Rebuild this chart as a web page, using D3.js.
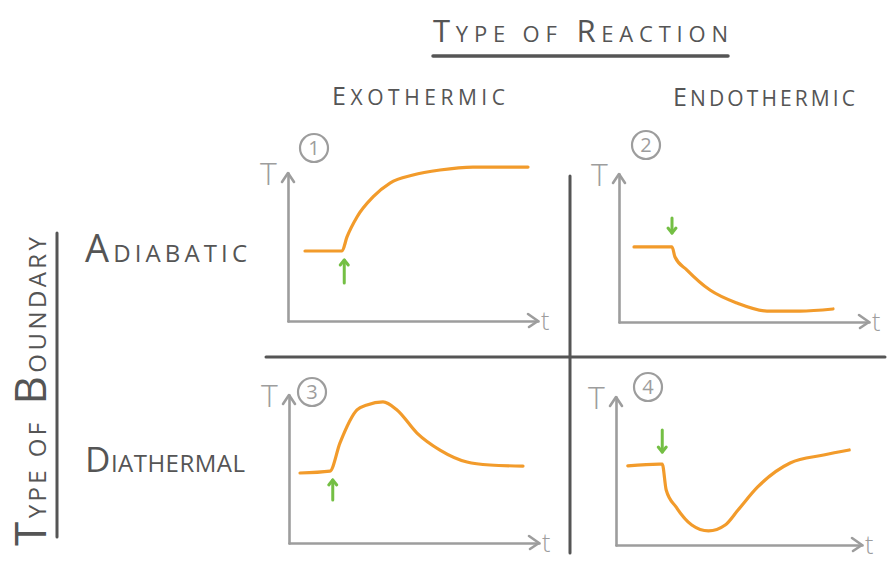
<!DOCTYPE html>
<html>
<head>
<meta charset="utf-8">
<script src="https://cdn.jsdelivr.net/npm/d3@7"></script>
<style>
  body { margin: 0; background: #fff; }
  svg { display: block; }
</style>
</head>
<body>
<svg id="chart" width="887" height="563"></svg>
<script>
// Headings
const titleWords = ["TYPE", "OF", "REACTION"];
const sideWords = ["TYPE", "OF", "BOUNDARY"];
const reactionTypes = ["EXOTHERMIC", "ENDOTHERMIC"];
const boundaryTypes = ["ADIABATIC", "DIATHERMAL"];
const panelNumbers = ["1", "2", "3", "4"];

// Temperature vs time sketches, [t, T] on a 0-100 scale
const adiabaticExo = [[6.8,47.3],[21.6,47.3],[23.6,56.8],[27.6,70.3],[34,83.8],[40.8,93.2],[50,98.6],[60.8,102],[74,104],[96,104]];
const adiabaticEndo = [[6,50.7],[21.2,50.7],[22.4,43.9],[27.2,35.1],[36.4,21.6],[47.2,12.8],[59.2,7.4],[72.4,7.4],[85.6,8.8]];
const diathermalExo = [[4.4,47.3],[16.4,48.6],[20.4,67.6],[27.2,89.9],[31.2,93.2],[37.6,95.3],[43.2,89.9],[51.2,74.3],[60.4,62.8],[71.2,54.7],[80.4,52.7],[93.6,52]];
const diathermalEndo = [[4.8,53.4],[17.6,54.7],[18.8,54.7],[20.4,37.2],[24.4,25.7],[30.8,13.5],[37.6,9.5],[44.4,13.5],[49.6,23.6],[57.6,39.2],[70.8,55.4],[84.4,60.8],[94.8,64.2]];
const curves = [adiabaticExo, adiabaticEndo, diathermalExo, diathermalEndo];

// Green trigger arrows: t position, tail T, head T
const triggerT = [22.5, 21.2, 17.5, 18.8];
const triggerFrom = [25.7, 70.3, 29, 77.7];
const triggerTo = [41.2, 60.1, 42.6, 62.8];

const svg = d3.select("#chart");
const INK = "#555555";
const AXIS = "#9d9d9d";
const ORANGE = "#f29b2b";
const GREEN = "#74bf44";
const FONT = "'Open Sans', 'DejaVu Sans', sans-serif";

// panel origins (axis corner) and axis sizes in pixels
const panels = [
  { ox: 288, oy: 321, w: 250, h: 148, numX: 314, numY: 148 },
  { ox: 619, oy: 322, w: 250, h: 148, numX: 646, numY: 145 },
  { ox: 289, oy: 543, w: 250, h: 148, numX: 312, numY: 392 },
  { ox: 616, oy: 545, w: 246, h: 148, numX: 648, numY: 387 }
];

// small-caps style heading: first letter of chosen words drawn large
function capsText(g, words, bigIdx, big, small, width) {
  const t = g.append("text")
    .attr("font-family", FONT)
    .attr("fill", INK)
    .attr("textLength", width)
    .attr("lengthAdjust", "spacing");
  words.forEach((w, i) => {
    const first = bigIdx.includes(i);
    t.append("tspan").attr("font-size", first ? big : small).text((i > 0 ? " " : "") + w[0]);
    t.append("tspan").attr("font-size", small).text(w.slice(1));
  });
  return t;
}

// Title + underline
capsText(svg.append("g").attr("transform", "translate(433,42)"), titleWords, [0, 2], 31, 22, 295);
svg.append("line").attr("x1", 433).attr("x2", 728).attr("y1", 56).attr("y2", 56)
  .attr("stroke", INK).attr("stroke-width", 3.5).attr("stroke-linecap", "round");

// Column headings
capsText(svg.append("g").attr("transform", "translate(332,105)"), [reactionTypes[0]], [0], 25, 21, 173);
capsText(svg.append("g").attr("transform", "translate(673,106)"), [reactionTypes[1]], [0], 25, 21, 182);

// Row headings
capsText(svg.append("g").attr("transform", "translate(85,262)"), [boundaryTypes[0]], [0], 38, 24, 162);
capsText(svg.append("g").attr("transform", "translate(85,472)"), [boundaryTypes[1]], [0], 35, 24, 160);

// Side heading (rotated) + rule
capsText(svg.append("g").attr("transform", "translate(46,546) rotate(-90)"), sideWords, [0, 2], 44, 24, 309);
svg.append("line").attr("x1", 57).attr("x2", 57).attr("y1", 233).attr("y2", 537)
  .attr("stroke", INK).attr("stroke-width", 3).attr("stroke-linecap", "round");

// Grid separators
svg.append("line").attr("x1", 266).attr("x2", 885).attr("y1", 357).attr("y2", 357)
  .attr("stroke", INK).attr("stroke-width", 3).attr("stroke-linecap", "round");
svg.append("line").attr("x1", 570).attr("x2", 570).attr("y1", 176).attr("y2", 553)
  .attr("stroke", INK).attr("stroke-width", 3).attr("stroke-linecap", "round");

panels.forEach((p, i) => {
  const x = d3.scaleLinear().domain([0, 100]).range([p.ox, p.ox + p.w]);
  const y = d3.scaleLinear().domain([0, 100]).range([p.oy, p.oy - p.h]);
  const g = svg.append("g");

  // axes without ticks
  const xa = g.append("g").attr("transform", `translate(0,${p.oy})`)
    .call(d3.axisBottom(x).tickValues([]).tickSizeOuter(0));
  const ya = g.append("g").attr("transform", `translate(${p.ox},0)`)
    .call(d3.axisLeft(y).tickValues([]).tickSizeOuter(0));
  [xa, ya].forEach(a => a.select(".domain")
    .attr("stroke", AXIS).attr("stroke-width", 2.6).attr("stroke-linecap", "round"));

  // axis arrowheads
  const xe = x(100), yt = y(100);
  g.append("path").attr("d", `M${xe - 10},${p.oy - 7}L${xe},${p.oy}L${xe - 9},${p.oy + 6}`)
    .attr("fill", "none").attr("stroke", AXIS).attr("stroke-width", 2.6)
    .attr("stroke-linecap", "round").attr("stroke-linejoin", "round");
  g.append("path").attr("d", `M${p.ox - 6},${yt + 9}L${p.ox},${yt}L${p.ox + 6},${yt + 9}`)
    .attr("fill", "none").attr("stroke", AXIS).attr("stroke-width", 2.6)
    .attr("stroke-linecap", "round").attr("stroke-linejoin", "round");

  // axis letters
  g.append("text").attr("x", p.ox - 28).attr("y", yt + 12)
    .attr("font-family", FONT).attr("font-size", 32).attr("font-weight", 300)
    .attr("fill", AXIS).text("T");
  g.append("text").attr("x", xe + 3).attr("y", p.oy + 9)
    .attr("font-family", FONT).attr("font-size", 25).attr("font-weight", 300)
    .attr("fill", AXIS).text("t");

  // circled panel number
  g.append("circle").attr("cx", p.numX).attr("cy", p.numY).attr("r", 14)
    .attr("fill", "none").attr("stroke", AXIS).attr("stroke-width", 2.2);
  g.append("text").attr("x", p.numX).attr("y", p.numY + 7)
    .attr("text-anchor", "middle").attr("font-family", FONT).attr("font-size", 20)
    .attr("fill", AXIS).text(panelNumbers[i]);

  // temperature curve
  const line = d3.line().x(d => x(d[0])).y(d => y(d[1])).curve(d3.curveMonotoneX);
  g.append("path").datum(curves[i]).attr("d", line)
    .attr("fill", "none").attr("stroke", ORANGE).attr("stroke-width", 3.2)
    .attr("stroke-linecap", "round").attr("stroke-linejoin", "round");

  // trigger arrow
  const ax = x(triggerT[i]), y0 = y(triggerFrom[i]), y1 = y(triggerTo[i]);
  const dir = y1 < y0 ? 1 : -1;
  g.append("line").attr("x1", ax).attr("x2", ax).attr("y1", y0).attr("y2", y1)
    .attr("stroke", GREEN).attr("stroke-width", 3).attr("stroke-linecap", "round");
  g.append("path").attr("d", `M${ax - 4},${y1 + dir * 5}L${ax},${y1}L${ax + 4},${y1 + dir * 5}`)
    .attr("fill", "none").attr("stroke", GREEN).attr("stroke-width", 3)
    .attr("stroke-linecap", "round").attr("stroke-linejoin", "round");
});
</script>
</body>
</html>
